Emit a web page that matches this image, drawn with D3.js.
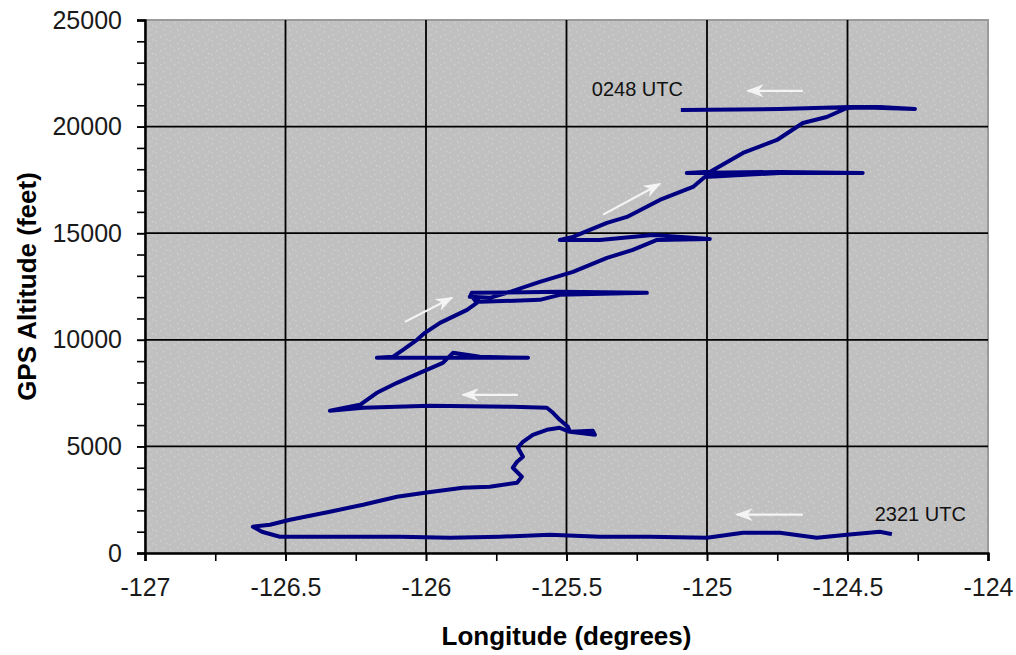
<!DOCTYPE html>
<html>
<head>
<meta charset="utf-8">
<script src="https://cdn.jsdelivr.net/npm/d3@7"></script>
<style>
  body { margin: 0; background: #fff; }
  svg { display: block; font-family: "Liberation Sans", Arial, sans-serif; }
</style>
</head>
<body>
<div class="d3-track-chart"></div>
<script>
// flight track, in time order from 2321 UTC (bottom right) to 0248 UTC (top)
const trackLon = [
  -124.349, -124.385, -124.502, -124.609, -124.741, -124.872, -125.000, -125.203, -125.381, -125.559,
  -125.737, -125.915, -126.093, -126.342, -126.520, -126.584, -126.616,
  -126.555, -126.484, -126.342, -126.224, -126.103, -126.004, -125.869, -125.773, -125.676,
  -125.659, -125.691, -125.676, -125.655, -125.673, -125.655, -125.620, -125.570, -125.524,
  -125.488, -125.406, -125.399, -125.488, -125.495, -125.524, -125.548, -125.570, -125.691,
  -125.986, -126.224, -126.342,
  -126.235, -126.175, -126.103, -126.022, -125.940, -125.904, -125.808, -125.637, -125.904, -126.175,
  -126.118, -126.082, -126.032, -126.004, -125.950, -125.854, -125.819,
  -125.833, -125.808, -125.595, -125.524, -125.214, -125.524, -125.837, -125.844, -125.773, -125.712,
  -125.595, -125.477, -125.356, -125.264, -125.178,
  -124.990, -125.193, -125.381, -125.524,
  -125.477, -125.417, -125.356, -125.285, -125.168, -125.050, -125.008,
  -124.741, -124.446, -124.741, -125.072,
  -124.990, -124.872, -124.751, -124.659, -124.574, -124.502,
  -124.385, -124.260, -124.492, -124.741, -125.086
];
const trackAlt = [
  905, 998, 858, 717, 952, 952, 717, 764, 764, 858,
  764, 717, 764, 764, 764, 998, 1233,
  1327, 1561, 1936, 2264, 2639, 2827, 3061, 3108, 3295,
  3577, 3998, 4280, 4514, 4936, 5217, 5545, 5780, 5873,
  5686, 5733, 5545, 5686, 5920, 6248, 6577, 6811, 6858,
  6905, 6811, 6670,
  6952, 7514, 7983, 8452, 8920, 9389, 9202, 9155, 9155, 9155,
  9202, 9530, 9998, 10327, 10795, 11405, 11733,
  11967, 11780, 11873, 12108, 12202, 12248, 12202, 12014, 11967, 12202,
  12717, 13186, 13842, 14217, 14686,
  14733, 14920, 14686, 14686,
  14827, 15155, 15483, 15764, 16561, 17170, 17639,
  17827, 17827, 17873, 17827,
  17873, 18764, 19373, 20170, 20452, 20873,
  20920, 20827, 20920, 20827, 20780
];

const xMajor = [-127, -126.5, -126, -125.5, -125, -124.5, -124];
const xMinor = d3.range(-127, -123.99, 0.25);
const yMajor = [0, 5000, 10000, 15000, 20000, 25000];
const yMinor = d3.range(0, 25001, 1000);

// time labels and direction arrows [lon, alt] -> [lon, alt] (tip)
const timeLabels = [
  {text: "0248 UTC", lon: -125.410, alt: 21436},
  {text: "2321 UTC", lon: -124.403, alt: 1514}
];
const arrows = [
  {from: [-124.659, 21680], to: [-124.855, 21680]},
  {from: [-125.370, 15870], to: [-125.168, 17310]},
  {from: [-126.075, 10840], to: [-125.908, 11970]},
  {from: [-125.673, 7420],  to: [-125.869, 7420]},
  {from: [-124.659, 1800],  to: [-124.894, 1800]}
];

class TrackChart {
  constructor({el}) {
    this.el = el;
    this.width = 1016;
    this.height = 655;
    this.margin = {l: 145, t: 20, r: 28, b: 102};
    this.x = d3.scaleLinear().domain([-127, -124]).range([this.margin.l, this.width - this.margin.r]);
    this.y = d3.scaleLinear().domain([0, 25000]).range([this.height - this.margin.b, this.margin.t]);
  }

  _makeSVG() {
    this.svg = d3.select(this.el).append("svg")
      .attr("width", this.width)
      .attr("height", this.height);

    // speckled grey fill like the old spreadsheet plot area
    const pat = this.svg.append("defs").append("pattern")
      .attr("id", "speckle")
      .attr("patternUnits", "userSpaceOnUse")
      .attr("width", 14).attr("height", 14);
    pat.append("rect").attr("width", 14).attr("height", 14).attr("fill", "#c0c0c0");
    [[2, 3], [9, 1], [6, 8], [12, 11], [1, 12], [10, 6]].forEach(p => {
      pat.append("rect").attr("x", p[0]).attr("y", p[1]).attr("width", 1.5).attr("height", 1.5).attr("fill", "#cecece");
    });

    this.svg.append("defs").append("marker")
      .attr("id", "head")
      .attr("viewBox", "0 0 10 10")
      .attr("refX", 9).attr("refY", 5)
      .attr("markerWidth", 8).attr("markerHeight", 6.5)
      .attr("markerUnits", "strokeWidth")
      .attr("orient", "auto")
      .attr("preserveAspectRatio", "none")
      .append("path")
      .attr("d", "M0,0.5 L10,5 L0,9.5 L3,5 Z")
      .attr("fill", "#f4f4f4");
  }

  _makeFrame() {
    const m = this.margin;
    this.svg.append("rect")
      .attr("x", m.l).attr("y", m.t)
      .attr("width", this.width - m.l - m.r)
      .attr("height", this.height - m.t - m.b)
      .attr("fill", "url(#speckle)")
      .attr("stroke", "#9a9a9a")
      .attr("stroke-width", 2);

    const grid = this.svg.append("g").attr("stroke", "#000").attr("stroke-width", 1.8);
    grid.selectAll(".vx")
      .data(xMajor.slice(1, -1))
      .join("line")
      .attr("x1", d => this.x(d)).attr("x2", d => this.x(d))
      .attr("y1", this.y(0)).attr("y2", this.y(25000));
    grid.selectAll(".hy")
      .data(yMajor.slice(1, -1))
      .join("line")
      .attr("x1", this.x(-127)).attr("x2", this.x(-124))
      .attr("y1", d => this.y(d)).attr("y2", d => this.y(d));
  }

  _makeAxes() {
    const m = this.margin;
    const fmt = d => d.toString();

    const gxMinor = this.svg.append("g")
      .attr("transform", `translate(0,${this.height - m.b})`)
      .call(d3.axisBottom(this.x).tickValues(xMinor).tickSize(8).tickFormat(""));
    const gx = this.svg.append("g")
      .attr("transform", `translate(0,${this.height - m.b})`)
      .call(d3.axisBottom(this.x).tickValues(xMajor).tickSize(8).tickPadding(17).tickFormat(fmt));

    const gyMinor = this.svg.append("g")
      .attr("transform", `translate(${m.l},0)`)
      .call(d3.axisLeft(this.y).tickValues(yMinor).tickSize(8).tickFormat(""));
    const gy = this.svg.append("g")
      .attr("transform", `translate(${m.l},0)`)
      .call(d3.axisLeft(this.y).tickValues(yMajor).tickSize(8).tickPadding(15).tickFormat(fmt));

    [gxMinor, gx, gyMinor, gy].forEach(g => {
      g.select(".domain").attr("stroke", "#000").attr("stroke-width", 2);
      g.selectAll(".tick line").attr("stroke", "#000").attr("stroke-width", 1.6);
      g.selectAll("text").attr("font-size", "25px").attr("fill", "#1a1a1a")
        .attr("font-family", "'Liberation Sans', Arial, sans-serif");
    });

    this.svg.append("text")
      .attr("x", (m.l + this.width - m.r) / 2)
      .attr("y", 645)
      .attr("text-anchor", "middle")
      .attr("font-size", "26px")
      .attr("font-weight", "bold")
      .text("Longitude (degrees)");

    this.svg.append("text")
      .attr("transform", `translate(36,${(m.t + this.height - m.b) / 2}) rotate(-90)`)
      .attr("text-anchor", "middle")
      .attr("font-size", "26px")
      .attr("font-weight", "bold")
      .text("GPS Altitude (feet)");
  }

  _makeTrack() {
    const pts = trackLon.map((lon, i) => [lon, trackAlt[i]]);
    const line = d3.line().x(d => this.x(d[0])).y(d => this.y(d[1]));
    this.svg.append("path")
      .attr("d", line(pts))
      .attr("fill", "none")
      .attr("stroke", "#000080")
      .attr("stroke-width", 4)
      .attr("stroke-linejoin", "round")
      .attr("stroke-linecap", "square");
  }

  _makeNotes() {
    this.svg.append("g").selectAll("line")
      .data(arrows)
      .join("line")
      .attr("x1", d => this.x(d.from[0])).attr("y1", d => this.y(d.from[1]))
      .attr("x2", d => this.x(d.to[0])).attr("y2", d => this.y(d.to[1]))
      .attr("stroke", "#f4f4f4")
      .attr("stroke-width", 2.2)
      .attr("marker-end", "url(#head)");

    this.svg.append("g").selectAll("text")
      .data(timeLabels)
      .join("text")
      .attr("x", d => this.x(d.lon))
      .attr("y", d => this.y(d.alt))
      .attr("font-size", "20px")
      .attr("fill", "#111")
      .text(d => d.text);
  }

  render() {
    if (this.svg) this.svg.remove();
    this._makeSVG();
    this._makeFrame();
    this._makeTrack();
    this._makeNotes();
    this._makeAxes();
  }
}

const chart = new TrackChart({el: document.querySelector(".d3-track-chart")});
chart.render();
</script>
</body>
</html>
